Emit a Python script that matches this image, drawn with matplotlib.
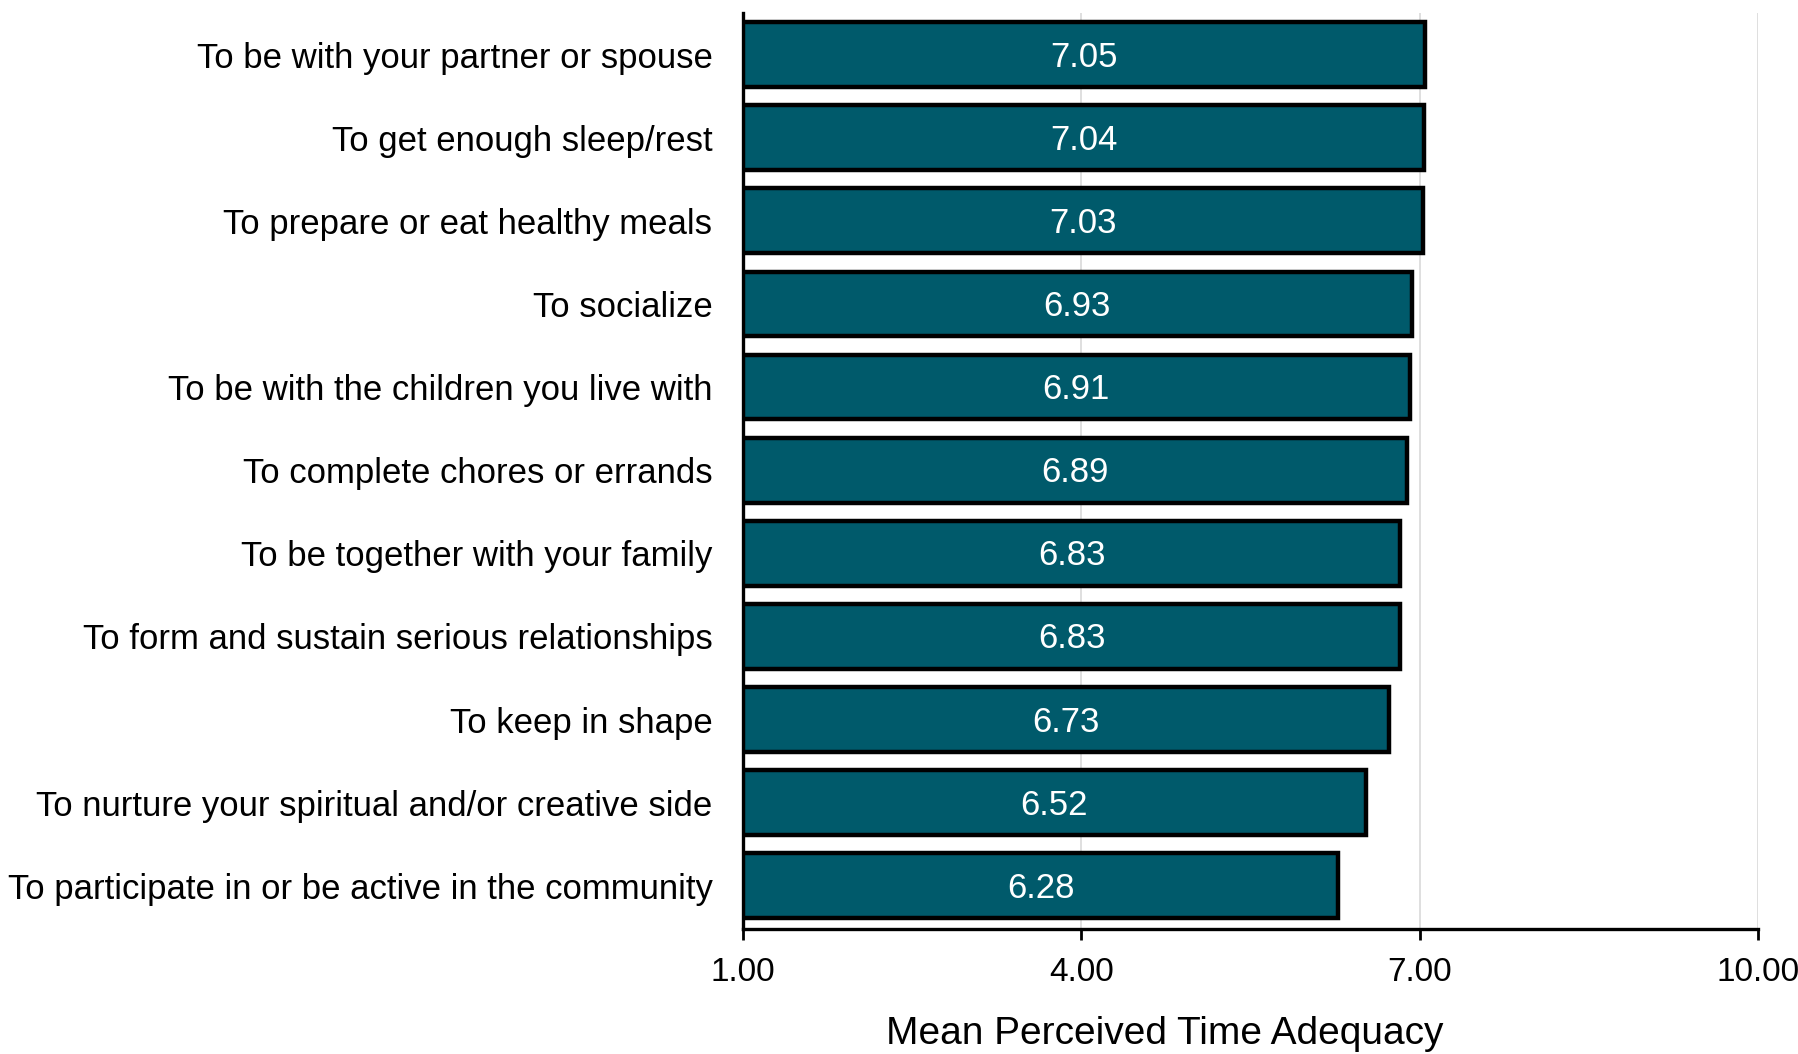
import matplotlib.pyplot as plt

categories = [
    "To be with your partner or spouse",
    "To get enough sleep/rest",
    "To prepare or eat healthy meals",
    "To socialize",
    "To be with the children you live with",
    "To complete chores or errands",
    "To be together with your family",
    "To form and sustain serious relationships",
    "To keep in shape",
    "To nurture your spiritual and/or creative side",
    "To participate in or be active in the community",
]
means = [7.05, 7.04, 7.03, 6.93, 6.91, 6.89, 6.83, 6.83, 6.73, 6.52, 6.28]
xticks = [1.0, 4.0, 7.0, 10.0]

plt.rcParams["font.family"] = ["Liberation Sans Narrow", "Liberation Sans", "DejaVu Sans"]

fig = plt.figure(figsize=(17.98, 10.54), dpi=100)
ax = fig.add_axes([743 / 1798, 1 - 929 / 1054, (1758 - 743) / 1798, (929 - 13) / 1054])

y = list(range(len(categories)))
widths = [m - 1.0 for m in means]
ax.barh(y, widths, left=1.0, height=0.78, color="#005a6b", edgecolor="black",
        linewidth=3.2, zorder=3)
for yi, m in zip(y, means):
    ax.text((1.0 + m) / 2, yi + 0.03, f"{m:.2f}", color="white", ha="center",
            va="center", fontsize=25, zorder=4)

ax.set_xlim(1, 10)
ax.set_ylim(len(categories) - 0.48, -0.5)
ax.set_yticks(y)
ax.set_yticklabels(categories, fontsize=25)
ax.set_xticks(xticks)
ax.set_xticklabels([f"{t:.2f}" for t in xticks], fontsize=24)
ax.tick_params(axis="y", length=0, pad=22)
ax.tick_params(axis="x", length=8, width=2, pad=12)
ax.xaxis.grid(True, color="#d9d9d9", linewidth=1.2, zorder=0)
ax.set_axisbelow(True)
for s in ["top", "right"]:
    ax.spines[s].set_visible(False)
for s in ["left", "bottom"]:
    ax.spines[s].set_linewidth(2.4)
    ax.spines[s].set_color("black")
ax.set_xlabel("Mean Perceived Time Adequacy", fontsize=28, x=0.416, labelpad=20)

fig.savefig("out.png", dpi=100)
